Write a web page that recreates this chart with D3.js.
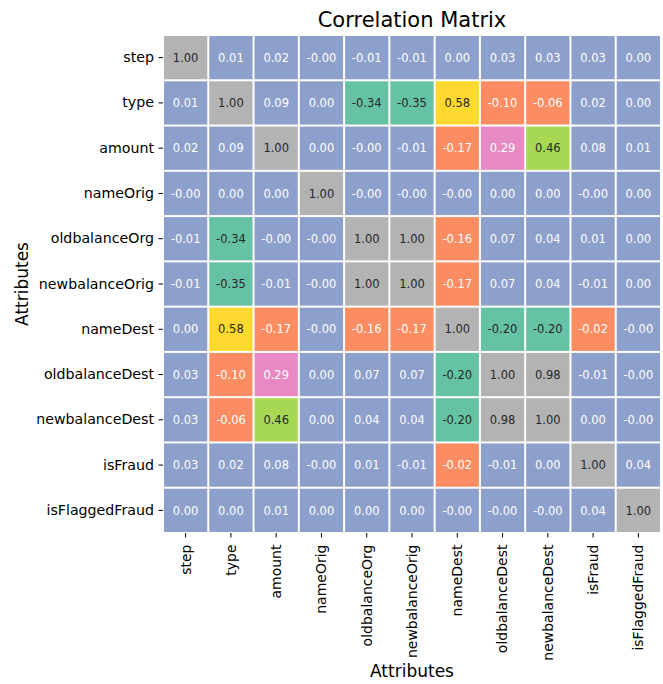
<!DOCTYPE html>
<html>
<head>
<meta charset="utf-8">
<script src="https://cdn.jsdelivr.net/npm/d3@7"></script>
<style>
  body { margin: 0; background: #fff; }
  text { font-family: "DejaVu Sans", sans-serif; }
</style>
</head>
<body>
<div id="chart"></div>
<script>
// attributes on both axes
const attrs = ["step", "type", "amount", "nameOrig", "oldbalanceOrg", "newbalanceOrig",
               "nameDest", "oldbalanceDest", "newbalanceDest", "isFraud", "isFlaggedFraud"]

// correlation rows (-0.001 stands for a "-0.00" cell)
const stepRow           = [1.00, 0.01, 0.02, -0.001, -0.01, -0.01, 0.00, 0.03, 0.03, 0.03, 0.00]
const typeRow           = [0.01, 1.00, 0.09, 0.00, -0.34, -0.35, 0.58, -0.10, -0.06, 0.02, 0.00]
const amountRow         = [0.02, 0.09, 1.00, 0.00, -0.001, -0.01, -0.17, 0.29, 0.46, 0.08, 0.01]
const nameOrigRow       = [-0.001, 0.00, 0.00, 1.00, -0.001, -0.001, -0.001, 0.00, 0.00, -0.001, 0.00]
const oldbalanceOrgRow  = [-0.01, -0.34, -0.001, -0.001, 1.00, 1.00, -0.16, 0.07, 0.04, 0.01, 0.00]
const newbalanceOrigRow = [-0.01, -0.35, -0.01, -0.001, 1.00, 1.00, -0.17, 0.07, 0.04, -0.01, 0.00]
const nameDestRow       = [0.00, 0.58, -0.17, -0.001, -0.16, -0.17, 1.00, -0.20, -0.20, -0.02, -0.001]
const oldbalanceDestRow = [0.03, -0.10, 0.29, 0.00, 0.07, 0.07, -0.20, 1.00, 0.98, -0.01, -0.001]
const newbalanceDestRow = [0.03, -0.06, 0.46, 0.00, 0.04, 0.04, -0.20, 0.98, 1.00, 0.00, -0.001]
const isFraudRow        = [0.03, 0.02, 0.08, -0.001, 0.01, -0.01, -0.02, -0.01, 0.00, 1.00, 0.04]
const isFlaggedFraudRow = [0.00, 0.00, 0.01, 0.00, 0.00, 0.00, -0.001, -0.001, -0.001, 0.04, 1.00]

const rows = [stepRow, typeRow, amountRow, nameOrigRow, oldbalanceOrgRow, newbalanceOrigRow,
              nameDestRow, oldbalanceDestRow, newbalanceDestRow, isFraudRow, isFlaggedFraudRow]

const width = 663
const height = 684
const plotLeft = 163, plotRight = 661, plotTop = 35, plotBottom = 533

const cells = []
rows.forEach((r, i) => r.forEach((v, j) => cells.push({ row: attrs[i], col: attrs[j], value: v })))

const xScale = d3.scaleBand().domain(attrs).range([plotLeft, plotRight])
const yScale = d3.scaleBand().domain(attrs).range([plotTop, plotBottom])
const color = d3.scaleQuantize().domain([-0.35, 1.0]).range(d3.schemeSet2)

const svg = d3.select("#chart").append("svg")
  .attr("width", width)
  .attr("height", height)

// pick dark or white text the way seaborn does, by luminance
function textColor(c) {
  const rgb = d3.rgb(c)
  const lin = v => { v = v / 255; return v <= 0.03928 ? v / 12.92 : Math.pow((v + 0.055) / 1.055, 2.4) }
  const lum = 0.2126 * lin(rgb.r) + 0.7152 * lin(rgb.g) + 0.0722 * lin(rgb.b)
  return lum > 0.408 ? "#262626" : "#ffffff"
}

const cell = svg.append("g").attr("class", "cells")
  .selectAll("g")
  .data(cells).enter()
  .append("g")

cell.append("rect")
  .attr("x", d => xScale(d.col) + 1)
  .attr("y", d => yScale(d.row) + 1)
  .attr("width", xScale.bandwidth() - 2)
  .attr("height", yScale.bandwidth() - 2)
  .attr("fill", d => color(d.value))

cell.append("text")
  .text(d => d.value.toFixed(2))
  .attr("x", d => xScale(d.col) + xScale.bandwidth() / 2)
  .attr("y", d => yScale(d.row) + yScale.bandwidth() / 2)
  .attr("dy", "0.36em")
  .attr("text-anchor", "middle")
  .attr("font-size", 11.5)
  .attr("fill", d => textColor(color(d.value)))

// axes
const yAxis = svg.append("g")
  .attr("transform", "translate(" + plotLeft + ",0)")
  .call(d3.axisLeft(yScale).tickSize(4.5).tickPadding(4.5))
yAxis.select(".domain").remove()
yAxis.selectAll("text").attr("font-size", 14.2).attr("fill", "#000")
  .style("font-family", "DejaVu Sans")

const xAxis = svg.append("g")
  .attr("transform", "translate(0," + plotBottom + ")")
  .call(d3.axisBottom(xScale).tickSize(4.5).tickPadding(4.5))
xAxis.select(".domain").remove()
xAxis.selectAll("text")
  .attr("font-size", 14)
  .attr("fill", "#000")
  .style("font-family", "DejaVu Sans")
  .attr("text-anchor", "end")
  .attr("transform", "rotate(-90)")
  .attr("x", -11.5)
  .attr("y", 0)
  .attr("dy", "0.35em")

// title and axis titles
svg.append("text")
  .text("Correlation Matrix")
  .attr("x", (plotLeft + plotRight) / 2)
  .attr("y", 27)
  .attr("text-anchor", "middle")
  .attr("font-size", 21)

svg.append("text")
  .text("Attributes")
  .attr("x", (plotLeft + plotRight) / 2)
  .attr("y", 677)
  .attr("text-anchor", "middle")
  .attr("font-size", 17)

svg.append("text")
  .text("Attributes")
  .attr("text-anchor", "middle")
  .attr("font-size", 17)
  .attr("transform", "translate(28," + (plotTop + plotBottom) / 2 + ")rotate(-90)")
</script>
</body>
</html>
